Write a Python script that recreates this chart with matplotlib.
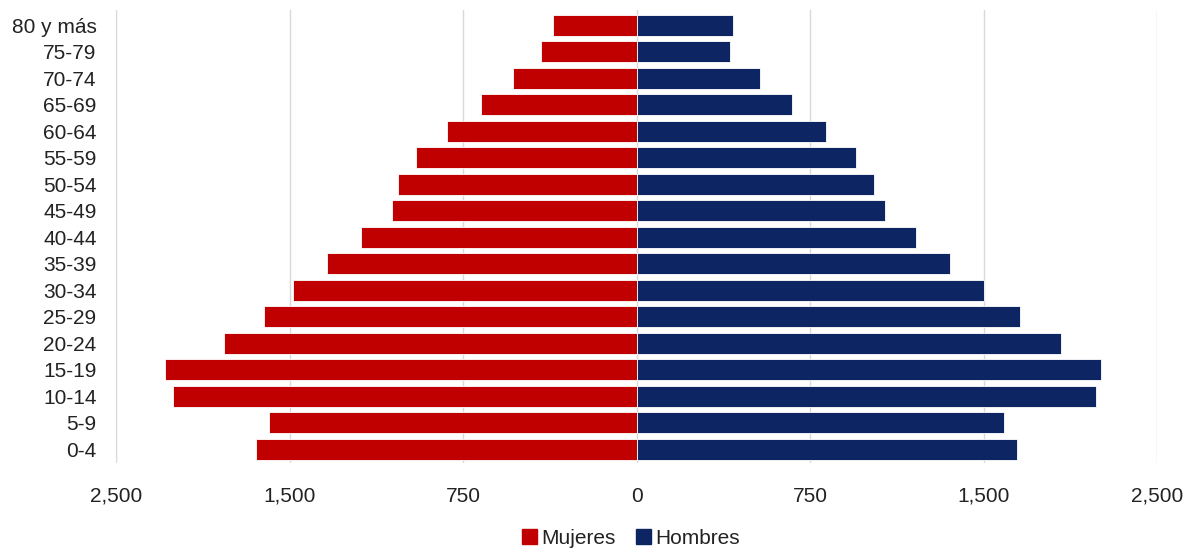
import numpy as np
import matplotlib.pyplot as plt
from matplotlib.patches import Patch

plt.rcParams['font.family'] = ['Liberation Sans', 'DejaVu Sans']

# grupos de edad, de abajo hacia arriba
grupos = ['0-4', '5-9', '10-14', '15-19', '20-24', '25-29', '30-34', '35-39',
          '40-44', '45-49', '50-54', '55-59', '60-64', '65-69', '70-74',
          '75-79', '80 y más']
mujeres = [1645, 1589, 2004, 2040, 1785, 1612, 1487, 1336,
           1193, 1059, 1029, 955, 821, 674, 536, 411, 359]
hombres = [1643, 1589, 1986, 2006, 1833, 1656, 1504, 1357,
           1210, 1072, 1025, 947, 817, 670, 532, 402, 415]

# ejes como en el original (marcas equiespaciadas)
ticks_x = [-2250, -1500, -750, 0, 750, 1500, 2250]
ticks_lbl = ['2,500', '1,500', '750', '0', '750', '1,500', '2,500']

rojo = '#C00000'
azul = '#0E2564'

fig = plt.figure(figsize=(11.86, 5.52), dpi=100)
ax = fig.add_axes([0.0978, 0.1612, 0.8778, 0.8207])

y = np.arange(len(grupos))
ax.barh(y, -np.array(mujeres), height=0.8, color=rojo, edgecolor='white', linewidth=0.6, zorder=2)
ax.barh(y, hombres, height=0.8, color=azul, edgecolor='white', linewidth=0.6, zorder=2)

ax.set_xlim(-2250, 2250)
ax.set_ylim(-0.52, 16.58)
ax.set_xticks(ticks_x)
ax.set_xticklabels(ticks_lbl)
ax.set_yticks(y)
ax.set_yticklabels(grupos)
ax.tick_params(axis='x', length=0, pad=17, labelsize=15, colors='#222222')
ax.tick_params(axis='y', length=0, pad=14, labelsize=15, colors='#222222')
ax.grid(axis='x', color='#D9D9D9', linewidth=1, zorder=0)
ax.set_axisbelow(True)
for s in ax.spines.values():
    s.set_visible(False)

handles = [Patch(color=rojo, label='Mujeres'), Patch(color=azul, label='Hombres')]
fig.legend(handles=handles, loc='center', bbox_to_anchor=(0.532, 0.025), ncol=2,
           frameon=False, fontsize=15, handlelength=0.7, handleheight=0.7,
           handletextpad=0.2, columnspacing=1.0, labelcolor='#222222',
           borderpad=0.1)

fig.savefig('out.png', dpi=100)
